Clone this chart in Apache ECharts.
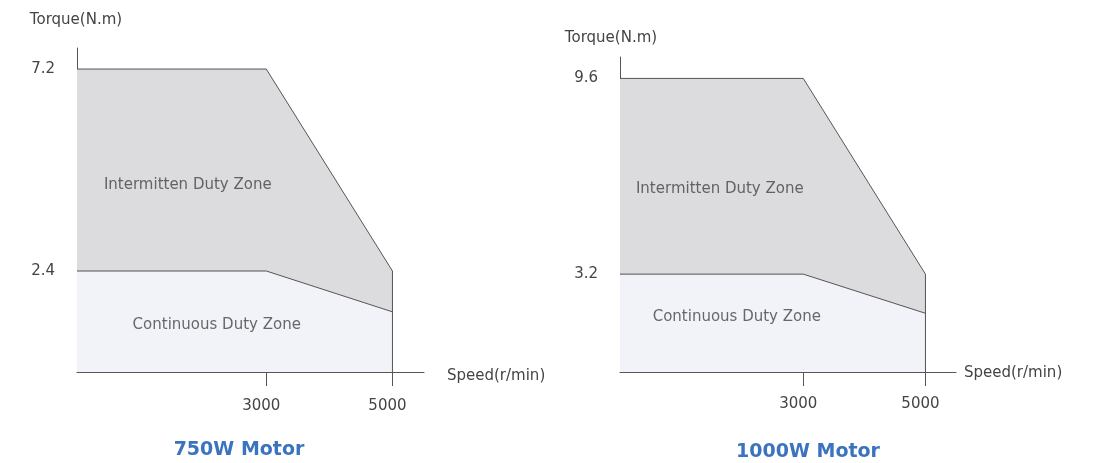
<!DOCTYPE html>
<html><head><meta charset="utf-8">
<script src="https://cdn.jsdelivr.net/npm/echarts@6/dist/echarts.min.js"></script>
<style>html,body{margin:0;padding:0;background:#fff}#c{width:1096px;height:463px}</style>
</head><body><div id="c"></div>
<script>
// ---- data ----
const titles = ['750W Motor', '1000W Motor'];
const xTicks = [3000, 5000];
const yTicksA = [2.4, 7.2];
const yTicksB = [3.2, 9.6];
const intermittentA = [[0, 7.2], [3000, 7.2], [5000, 2.4], [5000, 0]];
const continuousA = [[0, 2.4], [3000, 2.4], [5000, 1.43]];
const intermittentB = [[0, 9.6], [3000, 9.6], [5000, 3.2], [5000, 0]];
const continuousB = [[0, 3.2], [3000, 3.2], [5000, 1.92]];
const zoneNames = ['Intermitten Duty Zone', 'Continuous Duty Zone'];
const zonePosA = [[1756, 4.44], [2215, 1.12]];
const zonePosB = [[1634, 5.98], [1912, 1.80]];
const yName = 'Torque(N.m)';
const xName = 'Speed(r/min)';

const FONT = 'DejaVu Sans';
const TXT = '#444';
const LINE = '#555';

function xAxis(gi, gap, lh, labelMargin) {
  return {
    type: 'value', gridIndex: gi, min: 0, max: 5500,
    name: xName, nameLocation: 'end', nameGap: gap,
    nameTextStyle: { fontFamily: FONT, fontSize: 15, color: TXT, verticalAlign: 'top', lineHeight: lh },
    axisLine: { show: true, lineStyle: { color: LINE, width: 1 } },
    axisTick: { show: true, inside: false, length: 14, customValues: xTicks, lineStyle: { color: LINE } },
    axisLabel: { show: true, customValues: xTicks, margin: labelMargin, fontFamily: FONT, fontSize: 15, color: TXT,
                 padding: [0, 10, 0, 0], formatter: v => String(v) },
    splitLine: { show: false }
  };
}
function yAxis(gi, max, ticks, gap, shift) {
  return {
    type: 'value', gridIndex: gi, min: 0, max: max,
    name: yName, nameLocation: 'end', nameGap: gap,
    nameTextStyle: { fontFamily: FONT, fontSize: 15, color: TXT, padding: [0, shift, 0, 0] },
    axisLine: { show: true, lineStyle: { color: LINE, width: 1 } },
    axisTick: { show: false },
    axisLabel: { show: true, customValues: ticks, margin: 22, fontFamily: FONT, fontSize: 15, color: TXT },
    splitLine: { show: false }
  };
}
function area(i, data, fill) {
  return {
    type: 'line', xAxisIndex: i, yAxisIndex: i, data: data, showSymbol: false, symbol: 'none',
    lineStyle: { color: LINE, width: 1 }, areaStyle: { color: fill, opacity: 1 }, silent: true, z: 2
  };
}
function zoneLabels(i, pos) {
  return {
    type: 'scatter', xAxisIndex: i, yAxisIndex: i, symbolSize: 0, silent: true, z: 5,
    data: pos.map((p, k) => ({ value: p, name: zoneNames[k] })),
    label: { show: true, position: 'inside', formatter: p => p.name, fontFamily: FONT, fontSize: 15, color: TXT }
  };
}

const chart = echarts.init(document.getElementById('c'));
chart.setOption({
  animation: false,
  title: [
    { text: titles[0], left: 234, top: 436, textAlign: 'center', textStyle: { fontFamily: FONT, fontWeight: 'bold', fontSize: 19, color: '#3b73bf' } },
    { text: titles[1], left: 803, top: 438, textAlign: 'center', textStyle: { fontFamily: FONT, fontWeight: 'bold', fontSize: 19, color: '#3b73bf' } }
  ],
  grid: [
    { left: 77, top: 48, width: 347, height: 324 },
    { left: 620, top: 57, width: 336, height: 315 }
  ],
  xAxis: [xAxis(0, 23, 8, 27), xAxis(1, 8, 2, 25)],
  yAxis: [yAxis(0, 7.7, yTicksA, 20, 2), yAxis(1, 10.3, yTicksB, 11, 18)],
  series: [
    area(0, intermittentA, '#dcdcde'),
    area(0, continuousA, '#f2f3f9'),
    zoneLabels(0, zonePosA),
    area(1, intermittentB, '#dcdcde'),
    area(1, continuousB, '#f2f3f9'),
    zoneLabels(1, zonePosB)
  ]
});
</script></body></html>
